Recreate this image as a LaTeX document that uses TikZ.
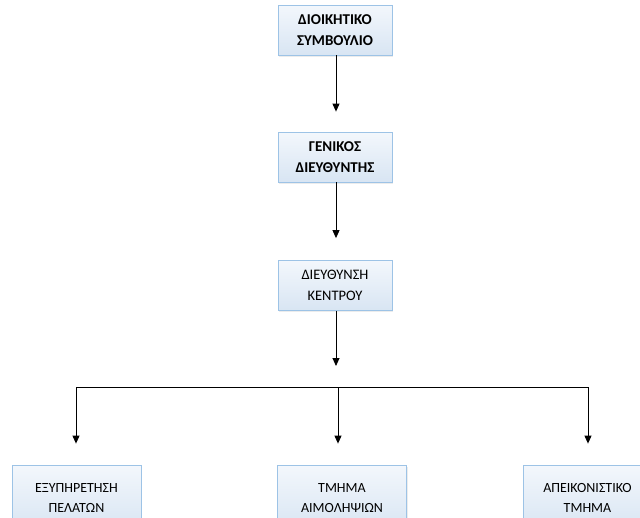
\documentclass[tikz,border=0pt]{standalone}
\usepackage{fontspec}
\setmainfont{Carlito}
\usepackage{xcolor}
\usetikzlibrary{arrows.meta, positioning, shadows}

\definecolor{boxline}{HTML}{9DC3E6}
\definecolor{boxtop}{HTML}{F3F7FC}
\definecolor{boxbottom}{HTML}{D8E5F3}

\tikzset{
    box/.style={draw=boxline, line width=0.8pt, top color=boxtop, bottom color=boxbottom,
        minimum width=114pt, minimum height=50pt, align=center,
        font=\fontsize{14.5}{21}\selectfont,
        drop shadow={shadow xshift=1pt, shadow yshift=-1.5pt, opacity=0.15}},
    head/.style={box, font=\fontsize{15}{21.5}\selectfont\bfseries},
    wide/.style={box, minimum width=129pt, minimum height=66pt, font=\fontsize{14}{19.5}\selectfont},
    link/.style={line width=0.9pt, -{Triangle[length=8pt,width=7pt]}}
}

\begin{document}
\begin{tikzpicture}[x=1pt, y=-1pt]
    \path[use as bounding box, fill=white] (0,0) rectangle (640,517);
    \clip (0,0) rectangle (640,517);

    \node[head] (board) at (335,30) {ΔΙΟΙΚΗΤΙΚΟ\\ΣΥΜΒΟΥΛΙΟ};
    \node[head] (gm) at (335,157) {ΓΕΝΙΚΟΣ\\ΔΙΕΥΘΥΝΤΗΣ};
    \node[box] (dir) at (335,285.5) {ΔΙΕΥΘΥΝΣΗ\\ΚΕΝΤΡΟΥ};

    \node[wide] (service) at (76.5,498) {ΕΞΥΠΗΡΕΤΗΣΗ\\ΠΕΛΑΤΩΝ};
    \node[wide] (lab) at (342,498) {ΤΜΗΜΑ\\ΑΙΜΟΛΗΨΙΩΝ};
    \node[wide] (imaging) at (587.5,498) {ΑΠΕΙΚΟΝΙΣΤΙΚΟ\\ΤΜΗΜΑ};

    \coordinate (split) at (336,366);
    \coordinate (left) at (76,387);
    \coordinate (mid) at (338,387);
    \coordinate (right) at (588,387);

    \draw[link, shorten >=20pt] (board.south -| split) -- (gm.north -| split);
    \draw[link, shorten >=22pt] (gm.south -| split) -- (dir.north -| split);
    \draw[link] (dir.south -| split) -- (split);
    \draw[line width=0.9pt] (left) -- (right);
    \draw[link, shorten >=21pt] (left) -- (left |- service.north);
    \draw[link, shorten >=21pt] (mid) -- (mid |- lab.north);
    \draw[link, shorten >=21pt] (right) -- (right |- imaging.north);
\end{tikzpicture}
\end{document}
